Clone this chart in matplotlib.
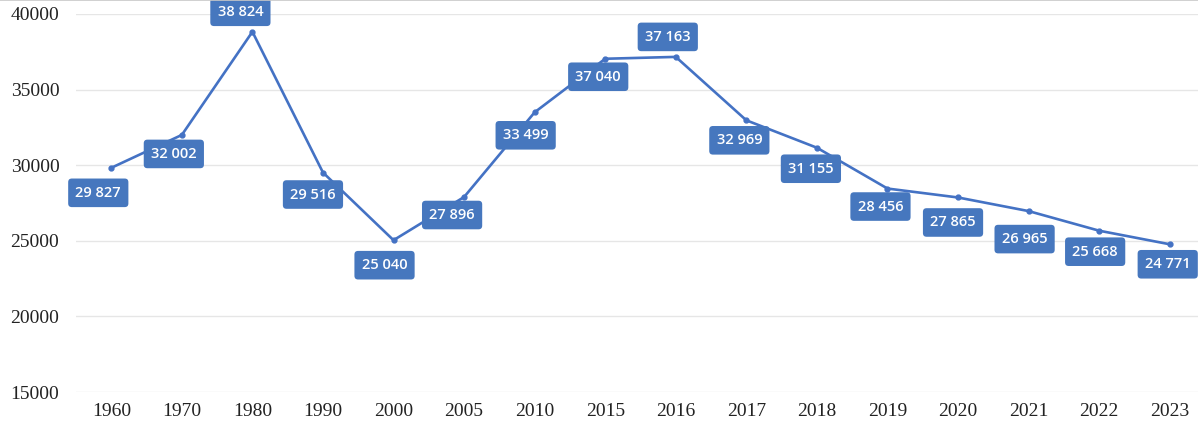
import matplotlib.pyplot as plt
from matplotlib.lines import Line2D

years = ["1960", "1970", "1980", "1990", "2000", "2005", "2010", "2015",
         "2016", "2017", "2018", "2019", "2020", "2021", "2022", "2023"]
values = [29827, 32002, 38824, 29516, 25040, 27896, 33499, 37040,
          37163, 32969, 31155, 28456, 27865, 26965, 25668, 24771]

# label box offsets from the point, in pixels (x right, y down)
label_offsets = [(-13, 25), (-8, 19), (-12, -20), (-10, 22), (-9, 25), (-12, 18),
                 (-9, 23), (-7, 18), (-8, -20), (-7, 20), (-6, 21), (-7, 18),
                 (-5, 25), (-4, 28), (-4, 21), (-2, 20)]

blue = "#4472C4"
box_blue = "#4677BE"

fig = plt.figure(figsize=(11.98, 4.44), dpi=100)
ax = fig.add_axes([76 / 1198, 52 / 444, 1129 / 1198, 378 / 444])

x = list(range(len(years)))
ax.plot(x, values, color=blue, lw=1.9, marker="o", ms=3.5, zorder=3)

for xi, v, (dx, dy) in zip(x, values, label_offsets):
    txt = f"{v:,}".replace(",", " ")
    ax.annotate(txt, (xi, v), xytext=(dx * 0.72, -dy * 0.72), textcoords="offset points",
                ha="center", va="center", color="white", fontsize=10.5,
                fontfamily="Open Sans", fontweight="semibold",
                bbox=dict(boxstyle="round,pad=0.5,rounding_size=0.25", fc=box_blue, ec="none"),
                zorder=5, annotation_clip=False)

ax.set_xlim(-0.5, 15.5)
ax.set_ylim(15000, 40000)
ax.set_yticks(range(15000, 40001, 5000))
ax.set_xticks(x)
ax.set_xticklabels(years)
ax.grid(axis="y", color="#e6e6e6", lw=1)
ax.set_axisbelow(True)
for s in ax.spines.values():
    s.set_visible(False)
ax.tick_params(length=0, labelsize=14, colors="#222222", pad=8)
ax.tick_params(axis="y", pad=12)
for lab in ax.get_xticklabels() + ax.get_yticklabels():
    lab.set_fontfamily("Liberation Serif")

fig.add_artist(Line2D([0, 1], [0.999, 0.999], color="#c8c8c8", lw=1.2, transform=fig.transFigure))

fig.savefig("out.png", dpi=100)
